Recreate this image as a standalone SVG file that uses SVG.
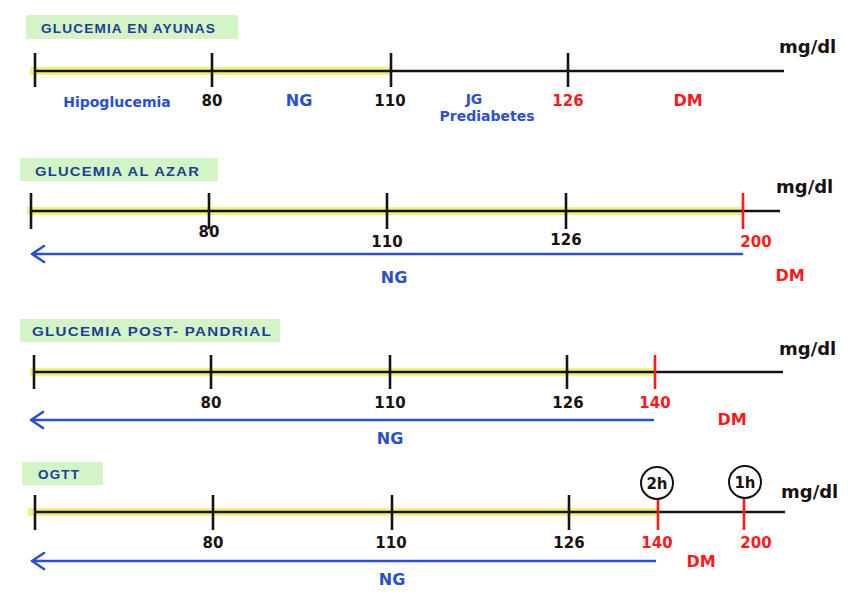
<svg xmlns="http://www.w3.org/2000/svg" width="848" height="600" viewBox="0 0 848 600">
<defs>
<style>
.bg{fill:#ffffff}
.lab{fill:#d3f4c4}
.hl{stroke:#eef57a;stroke-width:8}
.ax{stroke:#1a1212;stroke-width:2.6;fill:none}
.tk{stroke:#1a1212;stroke-width:2.6}
.rtk{stroke:#ff1a1a;stroke-width:2.6}
.h{font-family:"Liberation Sans",Arial,sans-serif;font-size:12px;font-weight:bold;fill:#1f3c9c;letter-spacing:1px}
.n{font-family:"DejaVu Sans","Liberation Sans",sans-serif;font-size:15px;font-weight:bold;fill:#1a1212;text-anchor:middle}
.b{font-family:"DejaVu Sans","Liberation Sans",sans-serif;font-size:14px;font-weight:bold;fill:#2a4fd0;text-anchor:middle}
.big{font-size:16px}
text.r{fill:#ff1a1a}
.u{font-family:"DejaVu Sans","Liberation Sans",sans-serif;font-size:18px;font-weight:bold;fill:#1a1212}
.arr{stroke:#2a4fd0;stroke-width:2.6;fill:none;stroke-linecap:round;stroke-linejoin:round}
.cir{fill:#fff;stroke:#1a1212;stroke-width:2}
</style>
</defs>
<rect class="bg" x="0" y="0" width="848" height="600"/>

<g id="ayunas">
<rect class="lab" x="26" y="15" width="212" height="24"/>
<text class="h" x="41" y="33" textLength="175" lengthAdjust="spacingAndGlyphs">GLUCEMIA EN AYUNAS</text>
<line class="hl" x1="30" y1="71" x2="390" y2="71"/>
<line class="ax" x1="34" y1="71" x2="784" y2="71"/>
<line class="tk" x1="35" y1="53" x2="35" y2="87"/>
<line class="tk" x1="212" y1="53" x2="212" y2="87"/>
<line class="tk" x1="391" y1="53" x2="391" y2="87"/>
<line class="tk" x1="568" y1="53" x2="568" y2="87"/>
<text class="u" x="779" y="53">mg/dl</text>
<text class="b" x="117" y="107">Hipoglucemia</text>
<text class="n" x="212" y="106">80</text>
<text class="b big" x="299" y="106">NG</text>
<text class="n" x="390" y="106">110</text>
<text class="b" x="474" y="104">JG</text>
<text class="b" x="487" y="121">Prediabetes</text>
<text class="n r" x="568" y="106">126</text>
<text class="b big r" x="688" y="106">DM</text>
</g>

<g id="azar">
<rect class="lab" x="20" y="158" width="198" height="23"/>
<text class="h" x="35" y="176" textLength="165" lengthAdjust="spacingAndGlyphs">GLUCEMIA AL AZAR</text>
<line class="hl" x1="27" y1="211" x2="742" y2="211"/>
<line class="ax" x1="31" y1="211" x2="780" y2="211"/>
<line class="tk" x1="31" y1="193" x2="31" y2="229"/>
<line class="tk" x1="209" y1="193" x2="209" y2="229"/>
<line class="tk" x1="387" y1="193" x2="387" y2="229"/>
<line class="tk" x1="566" y1="193" x2="566" y2="229"/>
<line class="rtk" x1="743" y1="193" x2="743" y2="229"/>
<text class="u" x="776" y="193">mg/dl</text>
<text class="n" x="209" y="237">80</text>
<text class="n" x="387" y="247">110</text>
<text class="n" x="566" y="245">126</text>
<text class="n r" x="756" y="247">200</text>
<text class="b big" x="394" y="283">NG</text>
<text class="b big r" x="790" y="281">DM</text>
</g>

<g id="postpandrial">
<rect class="lab" x="20" y="319" width="260" height="23"/>
<text class="h" x="32" y="336" textLength="240" lengthAdjust="spacingAndGlyphs">GLUCEMIA  POST- PANDRIAL</text>
<line class="hl" x1="30" y1="372" x2="655" y2="372"/>
<line class="ax" x1="34" y1="372" x2="783" y2="372"/>
<line class="tk" x1="34" y1="355" x2="34" y2="389"/>
<line class="tk" x1="211" y1="355" x2="211" y2="389"/>
<line class="tk" x1="390" y1="355" x2="390" y2="389"/>
<line class="tk" x1="567" y1="355" x2="567" y2="389"/>
<line class="rtk" x1="655" y1="355" x2="655" y2="389"/>
<text class="u" x="779" y="355">mg/dl</text>
<text class="n" x="211" y="408">80</text>
<text class="n" x="390" y="408">110</text>
<text class="n" x="568" y="408">126</text>
<text class="n r" x="655" y="408">140</text>
<text class="b big" x="390" y="444">NG</text>
<text class="b big r" x="732" y="425">DM</text>
</g>

<g id="ogtt">
<rect class="lab" x="22" y="462" width="81" height="23"/>
<text class="h" x="38" y="479" textLength="42" lengthAdjust="spacingAndGlyphs">OGTT</text>
<line class="hl" x1="28" y1="512" x2="657" y2="512"/>
<line class="ax" x1="35" y1="512" x2="785" y2="512"/>
<line class="tk" x1="35" y1="495" x2="35" y2="530"/>
<line class="tk" x1="213" y1="495" x2="213" y2="530"/>
<line class="tk" x1="392" y1="495" x2="392" y2="530"/>
<line class="tk" x1="569" y1="495" x2="569" y2="530"/>
<line class="rtk" x1="658" y1="495" x2="658" y2="530"/>
<line class="rtk" x1="744" y1="495" x2="744" y2="530"/>
<circle class="cir" cx="657" cy="483" r="16"/>
<text class="n" x="657" y="489">2h</text>
<circle class="cir" cx="745" cy="482" r="16"/>
<text class="n" x="745" y="488">1h</text>
<text class="u" x="781" y="498">mg/dl</text>
<text class="n" x="213" y="548">80</text>
<text class="n" x="391" y="548">110</text>
<text class="n" x="569" y="548">126</text>
<text class="n r" x="657" y="548">140</text>
<text class="n r" x="756" y="548">200</text>
<text class="b big" x="392" y="585">NG</text>
<text class="b big r" x="701" y="567">DM</text>
</g>

<g id="connectors">
<path class="arr" d="M742,254 H32 M44,246 L32,254 L44,262"/>
<path class="arr" d="M653,420 H31 M43,412 L31,420 L43,428"/>
<path class="arr" d="M655,561 H32 M44,553 L32,561 L44,569"/>
</g>
</svg>
